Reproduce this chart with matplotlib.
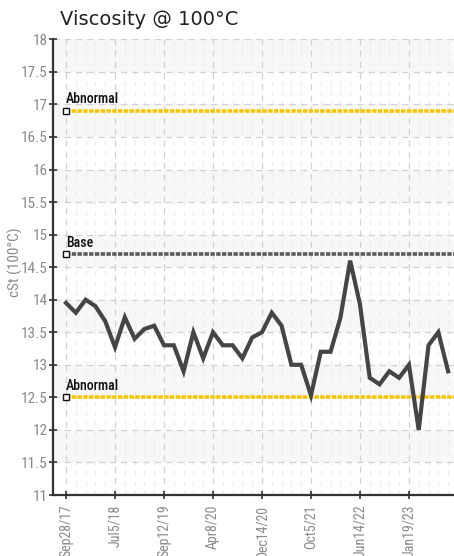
import matplotlib
matplotlib.use("Agg")
import matplotlib.pyplot as plt
from matplotlib import font_manager as fm
from matplotlib.ticker import FixedLocator
import numpy as np

# ---- data ----
values = [13.95, 13.8, 14.0, 13.9, 13.67, 13.27, 13.73, 13.4, 13.55, 13.6,
          13.3, 13.3, 12.9, 13.5, 13.1, 13.5, 13.3, 13.3, 13.1, 13.42,
          13.5, 13.8, 13.6, 13.0, 13.0, 12.53, 13.2, 13.2, 13.72, 14.6,
          13.93, 12.8, 12.7, 12.9, 12.8, 13.0, 12.0, 13.3, 13.5, 12.9]
tick_labels = ["Sep28/17", "Jul5/18", "Sep12/19", "Apr8/20", "Dec14/20",
               "Oct5/21", "Jun14/22", "Jan19/23"]
tick_step = 5
limit_names = ["Abnormal", "Base", "Abnormal"]
limit_values = [16.9, 14.7, 12.5]
limit_colors = ["#f7c600", "#5a5a5a", "#f7c600"]

title = "Viscosity @ 100°C"
ylabel = "cSt (100°C)"

# pick a narrow font if one is installed
entries = fm.fontManager.ttflist
names = {f.name for f in entries}
narrow_kw = None
for cand in ["Liberation Sans Narrow", "Roboto Condensed", "Open Sans Condensed",
             "Noto Sans Condensed"]:
    if cand in names:
        narrow_kw = dict(family=[cand, "DejaVu Sans"])
        break
if narrow_kw is None:
    for fam in ["Roboto", "Noto Sans", "Open Sans", "DejaVu Sans"]:
        if any(f.name == fam and str(f.stretch) in ("condensed", "semi-condensed", "75", "87.5")
               for f in entries):
            narrow_kw = dict(family=[fam, "DejaVu Sans"], stretch="condensed")
            break
narrow_ok = narrow_kw is not None
if narrow_kw is None:
    narrow_kw = dict(family=["Liberation Sans", "DejaVu Sans"])
fs_ytick = 11 if narrow_ok else 9.5
fs_xtick = 10 if narrow_ok else 8.5

fig = plt.figure(figsize=(4.54, 5.56), dpi=100)
ax = fig.add_axes([53.3/454, 61/556, (454-53.3)/454, (495-39.3)/556])

n = len(values)
x = np.arange(n)

# background bands
for lo in np.arange(11.5, 18, 1.0):
    ax.axhspan(lo, lo + 0.5, color="#f7f7f7", zorder=0, lw=0)

ax.set_ylim(11, 18)
ax.set_xlim(-1.3, 39.6)
yt = np.arange(11, 18.01, 0.5)
ax.set_yticks(yt)
ax.set_yticklabels([("%g" % v) for v in yt])

major_pos = list(range(0, len(tick_labels) * tick_step, tick_step))
ax.set_xticks(major_pos)
ax.set_xticklabels(tick_labels, rotation=90)
ax.xaxis.set_minor_locator(FixedLocator([i for i in x if i % tick_step != 0]))

ax.grid(True, which="major", color="#d2d2d2", linestyle=(0, (5, 4)), lw=0.9, zorder=1)
ax.grid(True, which="minor", axis="x", color="#ebebeb", linestyle=(0, (4, 5)), lw=0.8, zorder=1)

for lab in ax.get_yticklabels():
    lab.set(**narrow_kw)
    lab.set_color("#8a8a8a")
    lab.set_fontsize(fs_ytick)
for lab in ax.get_xticklabels():
    lab.set(**narrow_kw)
    lab.set_color("#8a8a8a")
    lab.set_fontsize(fs_xtick)

ax.tick_params(axis="both", which="major", direction="inout", length=6, width=1.2, color="#333333")
ax.tick_params(axis="x", which="major", pad=4)
ax.tick_params(axis="y", which="major", pad=1)
ax.tick_params(axis="x", which="minor", length=0)

for s in ["top", "right"]:
    ax.spines[s].set_visible(False)
for s in ["left", "bottom"]:
    ax.spines[s].set_color("#333333")
    ax.spines[s].set_linewidth(1.6)

# limit lines
for name, val, col in zip(limit_names, limit_values, limit_colors):
    ax.plot([0, 39.6], [val, val], color=col, lw=2.6, linestyle=(0, (1.2, 0.4)), zorder=3,
            solid_capstyle="butt")
    ax.plot([0], [val], marker="s", ms=4.5, mfc="white", mec="#111111", mew=1.0, zorder=5,
            clip_on=False)
    ax.text(0, val + 0.07, name, fontsize=10 if narrow_ok else 8.5, color="#111111",
            ha="left", va="bottom", zorder=5, weight="medium", **narrow_kw)

# data line
ax.plot(x, values, color="#454545", lw=3.0, zorder=4, solid_joinstyle="miter")

ax.set_ylabel(ylabel, color="#8a8a8a", fontsize=11 if narrow_ok else 9, **narrow_kw)
ax.yaxis.set_label_coords(-0.076, 0.511)
fig.text(60/454, 1 - 25/556, title, fontsize=14, color="#222222", ha="left", va="baseline")

fig.savefig("out.png", dpi=100, facecolor="white")
